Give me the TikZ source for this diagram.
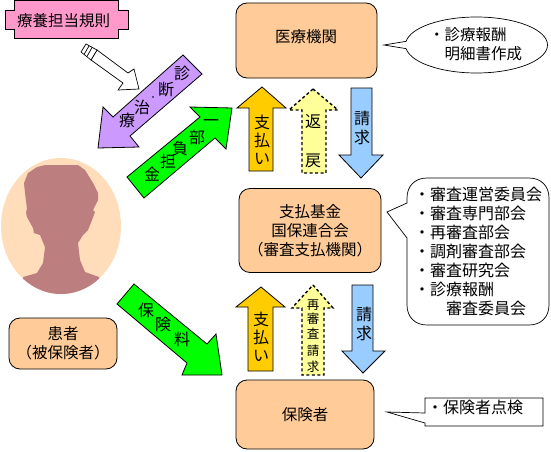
\documentclass[tikz,border=0pt]{standalone}
\usepackage{fontspec}
\setmainfont{Noto Sans CJK JP}
\usepackage{xcolor}
\definecolor{bsBox}{HTML}{FFCC99}
\definecolor{bsPink}{HTML}{FF99CC}
\definecolor{bsPurple}{HTML}{CC99FF}
\definecolor{bsGreen}{HTML}{00FF00}
\definecolor{bsOrange}{HTML}{FFCC00}
\definecolor{bsYellow}{HTML}{FFFF99}
\definecolor{bsBlue}{HTML}{99CCFF}
\definecolor{bsSkin}{HTML}{FFDCBA}
\definecolor{bsShadow}{HTML}{BC7E7E}
\usetikzlibrary{
    shapes.callouts,
    positioning
}

\begin{document}
\begin{tikzpicture}[
    x=1pt, y=-1pt,
    every node/.style={font=\fontsize{15.5}{19}\selectfont, inner sep=0pt, align=center},
    bsBoxShape/.style={
        rectangle, rounded corners=11pt,
        draw=black, line width=0.8pt, fill=bsBox
    },
    bsNote/.style={
        draw=black, line width=0.7pt, fill=white
    },
    bsNoteText/.style={
        align=left, anchor=north west
    },
    bsSolid/.style={
        draw=black, line width=0.8pt
    },
    bsDashed/.style={
        draw=black, line width=1.4pt, dash pattern=on 3pt off 2.5pt, fill=bsYellow
    },
    bsChar/.style={
        font=\fontsize{16}{19}\selectfont
    },
    bsCharSmall/.style={
        font=\fontsize{12.5}{15}\selectfont
    }
]
    \useasboundingbox (0,0) rectangle (551,452);

    % Rule plate
    \draw[bsSolid, fill=bsPink] (14,0.5) -- (118,0.5) -- (118,10) -- (128,10) -- (128,29)
        -- (118,29) -- (118,38) -- (14,38) -- (14,29) -- (5,29) -- (5,10) -- (14,10) -- cycle;
    \node (rule) at (63.5,21) {療養担当規則};

    % Institutions
    \node[bsBoxShape, minimum width=141pt, minimum height=75pt] (clinic) at (306.5,40.5) {};
    \node (clinicText) at (306,37) {医療機関};
    \node[bsBoxShape, minimum width=142pt, minimum height=84pt] (fund) at (310,230.5)
        {支払基金\\国保連合会\\（審査支払機関）};
    \node[bsBoxShape, minimum width=138pt, minimum height=69pt] (insurer) at (305,414.5) {保険者};

    % Patient
    \fill[bsSkin] (61,226) ellipse [x radius=60, y radius=68];
    \begin{scope}
        \clip (61,226) ellipse [x radius=60, y radius=68];
        \fill[bsShadow] (23,277) -- (37,273) -- (43,263) -- (45,247) -- (40,235) -- (34,233)
            -- (33,228) -- (27,217) -- (26,212) -- (27,209) -- (25,193) -- (24,183)
            -- (28,173) -- (37,167) -- (45,165) -- (78,165) -- (85,170) -- (93,183)
            -- (98,193) -- (98,200) -- (93,210) -- (95,212) -- (92,220) -- (88,230)
            -- (83,235) -- (78,243) -- (80,260) -- (85,272) -- (99,277) -- (99,300)
            -- (23,300) -- cycle;
    \end{scope}
    \node[bsBoxShape, minimum width=108pt, minimum height=51pt] (patient) at (63,343.5)
        {患者\\（被保険者）};

    % Diagonal arrows
    \draw[line width=0.7pt, fill=white] (97,50) -- (128,73) -- (134,69) -- (139,89) -- (118,90)
        -- (123,83) -- (91,60) -- cycle;
    \draw[line width=0.7pt, fill=white] (86,44) -- (97,50) -- (91,60) -- (81,52) -- cycle;
    \draw[line width=0.7pt] (89,46) -- (84,54.5) (92,47.5) -- (87,56.5);
    \draw[bsSolid, fill=bsPurple] (183,55) -- (202,74) -- (130,136) -- (139,147) -- (98,148)
        -- (103,107) -- (113,117) -- cycle;
    \draw[bsSolid, fill=bsGreen] (127,177) -- (144,198) -- (215,138) -- (226,149) -- (232,108)
        -- (190,107) -- (200,117) -- cycle;
    \draw[bsSolid, fill=bsGreen] (134,284) -- (117,304) -- (187,363) -- (182,375) -- (222,375)
        -- (216,334) -- (207,344) -- cycle;

    % Upright arrows
    \draw[bsSolid, fill=bsOrange] (262,87) -- (286,108) -- (273,108) -- (273,171) -- (249,171)
        -- (249,108) -- (237,108) -- cycle;
    \draw[bsDashed] (313,89) -- (338,110) -- (326,110) -- (326,173) -- (302,173)
        -- (302,110) -- (289,110) -- cycle;
    \draw[bsSolid, fill=bsBlue] (351,88) -- (372,88) -- (372,155) -- (383,155) -- (361,178)
        -- (339,155) -- (351,155) -- cycle;
    \draw[bsSolid, fill=bsOrange] (261,287) -- (285,307) -- (273,307) -- (273,371) -- (248,371)
        -- (248,307) -- (236,307) -- cycle;
    \draw[bsDashed] (313,285) -- (333,308) -- (324,308) -- (324,375) -- (302,375)
        -- (302,308) -- (292,308) -- cycle;
    \draw[bsSolid, fill=bsBlue] (352,285) -- (373,285) -- (373,351) -- (385,351) -- (363,373)
        -- (342,351) -- (352,351) -- cycle;

    % Arrow labels
    \foreach \glyph/\px/\py [count=\i] in {
        診/182/73, 断/166/90, 治/142/107, 療/127/120,
        金/152/174, 担/168/161, 負/180/148, 部/197/137, 一/211/123,
        保/146/310, 険/163/324, 料/182/339,
        支/262/122, 払/262/140, い/262/159, 返/313/122, 戻/313/161, 請/362/118, 求/362/137,
        支/261/319, 払/261/337, い/261/356, 請/364/314, 求/364/333} {
        \node[bsChar] (glyph\i) at (\px,\py) {\glyph};
    }
    \node[font=\fontsize{8}{8}\selectfont] (treatDot) at (153,98.5) {・};
    \foreach \glyph/\py [count=\i] in {再/305, 審/319, 査/334, 請/351, 求/367} {
        \node[bsCharSmall] (recheck\i) at (313,\py) {\glyph};
    }

    % Notes
    \node[ellipse callout, bsNote, minimum width=142pt, minimum height=56pt,
        callout absolute pointer={(384,45)}] (clinicNote) at (476.5,45) {};
    \node[bsNoteText] (clinicNoteText) at (429,27) {・診療報酬\\　明細書作成};

    \draw[bsNote] (427,178) -- (529,178) .. controls (541,178) and (549,186) .. (549,198)
        -- (549,305) .. controls (549,317) and (541,325) .. (529,325)
        -- (427,325) .. controls (415,325) and (407,317) .. (407,305)
        -- (407,238) -- (387,212) -- (407,203) -- (407,198)
        .. controls (407,186) and (415,178) .. (427,178) -- cycle;
    \node[bsNoteText, font=\fontsize{16}{19}\selectfont] (fundNoteText) at (414,187)
        {・審査運営委員会\\・審査専門部会\\・再審査部会\\・調剤審査部会\\・審査研究会\\・診療報酬\\　　審査委員会};

    \draw[bsNote] (425,398) -- (543,398) -- (543,426) -- (425,426) -- (425,423) -- (387,412)
        -- (425,413) -- cycle;
    \node[bsNoteText, font=\fontsize{16}{19}\selectfont] (insurerNoteText) at (427,400) {・保険者点検};

\end{tikzpicture}
\end{document}
